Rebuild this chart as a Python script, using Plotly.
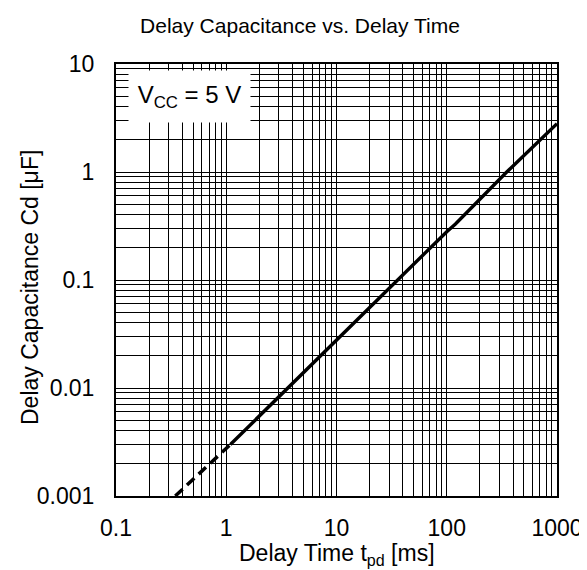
import plotly.graph_objects as go

# Data (log-log)
dash_t = [0.345, 1.09]
dash_cd = [0.001, 0.003]
solid_t = [1.09, 10, 100, 120, 350, 1000]
solid_cd = [0.003, 0.028, 0.28, 0.33, 1.0, 2.8]

x_tickvals = [0.1, 1, 10, 100, 1000]
x_ticktext = ["0.1", "1", "10", "100", "1000"]
y_tickvals = [0.001, 0.01, 0.1, 1, 10]
y_ticktext = ["0.001", "0.01", "0.1", "1", "10"]

x_minor = [m * 10 ** e for e in range(-1, 3) for m in range(2, 10)]
y_minor = [m * 10 ** e for e in range(-3, 1) for m in range(2, 10)]

FONT = "Liberation Sans, Arial, sans-serif"
L, R, T, B = 108, 28, 56, 82
W, H = 587, 570
PW, PH = W - L - R, H - T - B

fig = go.Figure()
fig.add_trace(go.Scatter(x=dash_t, y=dash_cd, mode="lines",
                         line=dict(color="black", width=3.5, dash="10px,6px"),
                         showlegend=False))
fig.add_trace(go.Scatter(x=solid_t, y=solid_cd, mode="lines",
                         line=dict(color="black", width=3.4),
                         showlegend=False))

axis_common = dict(
    type="log", showline=True, linecolor="black", linewidth=2, mirror=True,
    showgrid=True, gridcolor="black", gridwidth=1.4, ticks="",
    tickfont=dict(family=FONT, size=23, color="black"), zeroline=False,
)

fig.update_xaxes(**axis_common, range=[-1, 3], tickmode="array",
                 tickvals=x_tickvals, ticktext=x_ticktext, ticklabelstandoff=10,
                 minor=dict(tickmode="array", tickvals=x_minor, showgrid=True,
                            gridcolor="black", gridwidth=1.4, ticks=""))
fig.update_yaxes(**axis_common, range=[-3, 1], tickmode="array",
                 tickvals=y_tickvals, ticktext=y_ticktext, ticklabelstandoff=15,
                 minor=dict(tickmode="array", tickvals=y_minor, showgrid=True,
                            gridcolor="black", gridwidth=1.4, ticks=""))

# Axis titles
fig.add_annotation(x=0.5, y=0, xref="paper", yref="paper",
                   yshift=-(546 - (T + PH)), xanchor="center", yanchor="middle",
                   text="Delay Time t<sub>pd</sub> [ms]", showarrow=False,
                   font=dict(family=FONT, size=23, color="black"))
fig.add_annotation(x=0, y=0.5, xref="paper", yref="paper",
                   xshift=-(L - 22), yshift=-8, xanchor="center", yanchor="middle",
                   textangle=-90, text="Delay Capacitance Cd [μF]", showarrow=False,
                   font=dict(family=FONT, size=23, color="black"))

# Condition box
fig.add_annotation(x=(183.5 - L) / PW, y=1 - (88.5 - T) / PH, xref="paper", yref="paper",
                   xanchor="center", yanchor="middle",
                   text="V<sub>CC</sub> = 5 V", showarrow=False,
                   font=dict(family=FONT, size=24, color="black"),
                   bgcolor="white", width=117, height=47, borderpad=2)

fig.update_layout(
    width=W, height=H,
    margin=dict(l=L, r=R, t=T, b=B),
    plot_bgcolor="white", paper_bgcolor="white",
    title=dict(text="Delay Capacitance vs. Delay Time", xref="container", x=292 / W,
               xanchor="center", yref="container", y=1 - 18 / H, yanchor="middle",
               font=dict(family=FONT, size=21, color="black")),
)

fig.write_html("out.html")
